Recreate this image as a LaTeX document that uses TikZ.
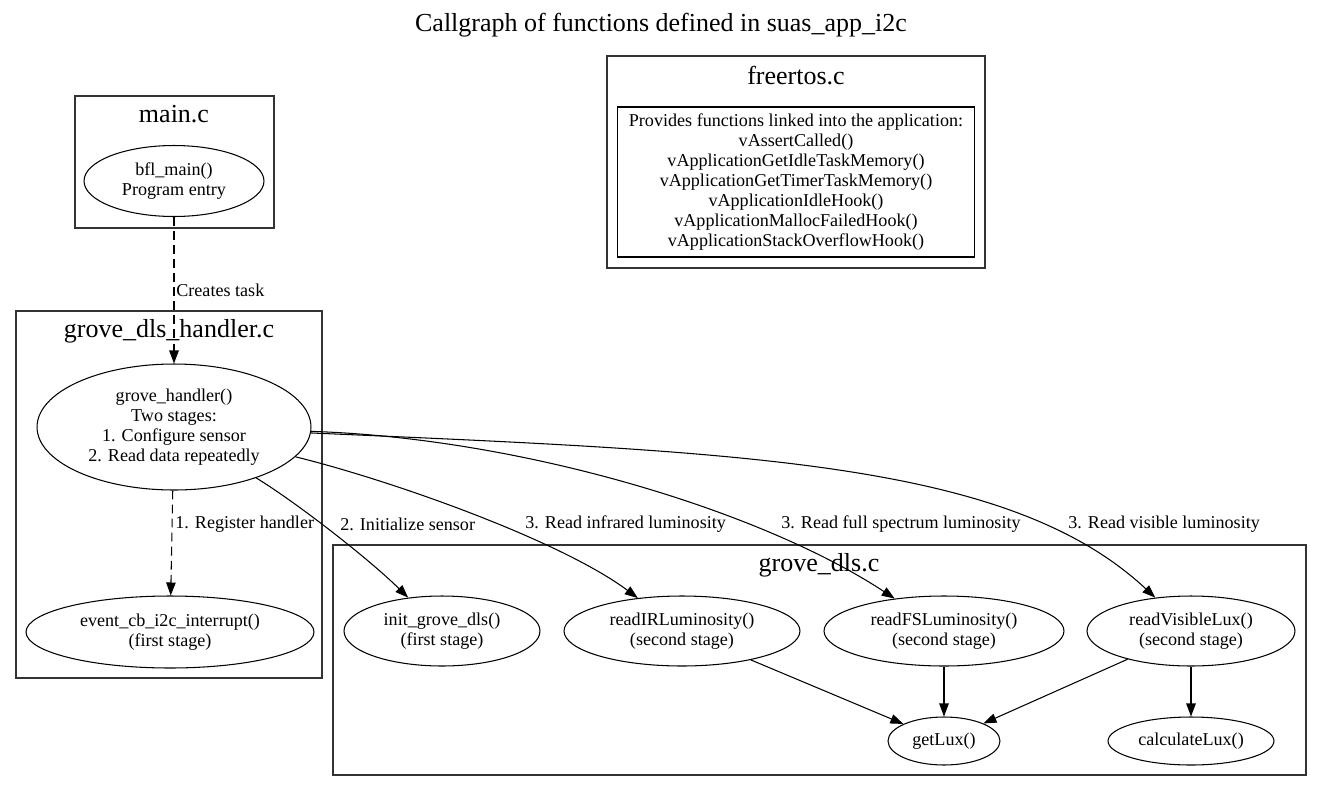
\documentclass[tikz,border=0pt]{standalone}
\usepackage{fontspec}
\setmainfont{Liberation Serif}
\usepackage{tikz}
\usetikzlibrary{arrows.meta,shapes.geometric,positioning}
\tikzset{
  fn/.style={ellipse,draw,line width=0.6pt,inner sep=0pt,align=center,
    font=\fontsize{10.3}{11.4}\selectfont},
  grupo/.style={draw=black!80,line width=0.6pt},
  titulo/.style={inner sep=0pt,font=\fontsize{14.8}{17}\selectfont},
  etq/.style={inner sep=0pt,anchor=west,font=\fontsize{10.3}{11.4}\selectfont},
  llama/.style={-{Triangle[length=7.4pt,width=5.4pt]},line width=0.6pt},
  tarea/.style={llama,dash pattern=on 5pt off 3pt}
}

\begin{document}
\begin{tikzpicture}[x=0.02cm,y=-0.02cm]
\useasboundingbox (0,0) rectangle (1323,792);
\node[titulo] (tit) at (661,25) {Callgraph of functions defined in suas\_app\_i2c};
% main.c
\draw[grupo] (75,96) rectangle (274,228);
\node[titulo] (cMain) at (174,114) {main.c};
\node[fn,minimum width=3.6cm,minimum height=1.42cm] (bflMain) at (174,181) {bfl\_main()\\Program entry};
% freertos.c
\draw[grupo] (607,56) rectangle (985,268);
\node[titulo] (cFree) at (796,76) {freertos.c};
\node[draw,line width=0.6pt,align=center,inner sep=0pt,minimum width=7.16cm,minimum height=3cm,
  font=\fontsize{10.3}{11.4}\selectfont] (provee) at (796,182)
  {Provides functions linked into the application:\\vAssertCalled()\\vApplicationGetIdleTaskMemory()\\
   vApplicationGetTimerTaskMemory()\\vApplicationIdleHook()\\vApplicationMallocFailedHook()\\
   vApplicationStackOverflowHook()};
% grove_dls_handler.c
\draw[grupo] (16,311) rectangle (322,678);
\node[titulo] (cHandler) at (169,331) {grove\_dls\_handler.c};
\node[fn,minimum width=5.48cm,minimum height=2.52cm] (groveHandler) at (174,427)
  {grove\_handler()\\Two stages:\\1. Configure sensor\\2. Read data repeatedly};
\node[fn,minimum width=5.76cm,minimum height=1.44cm] (eventCb) at (170,632) {event\_cb\_i2c\_interrupt()\\(first stage)};
% grove_dls.c
\draw[grupo] (333,545) rectangle (1306,775);
\node[titulo] (cDls) at (819,565) {grove\_dls.c};
\node[fn,minimum width=3.92cm,minimum height=1.4cm] (initGrove) at (442,631) {init\_grove\_dls()\\(first stage)};
\node[fn,minimum width=4.72cm,minimum height=1.4cm] (readIR) at (682,631) {readIRLuminosity()\\(second stage)};
\node[fn,minimum width=4.8cm,minimum height=1.4cm] (readFS) at (944,631) {readFSLuminosity()\\(second stage)};
\node[fn,minimum width=4.16cm,minimum height=1.4cm] (readVis) at (1191,631) {readVisibleLux()\\(second stage)};
\node[fn,minimum width=2.24cm,minimum height=0.96cm] (getLux) at (944,741) {getLux()};
\node[fn,minimum width=3.32cm,minimum height=0.96cm] (calcLux) at (1191,741) {calculateLux()};
% llamadas
\draw[tarea] (bflMain) -- (groveHandler);
\node[etq] (lTask) at (176,290) {Creates task};
\draw[tarea] (groveHandler) -- (eventCb);
\node[etq] (lReg) at (175,524) {1. Register handler};
\draw[llama] (groveHandler) .. controls (300,505) and (370,560) .. (initGrove);
\node[etq] (lInit) at (340,524) {2. Initialize sensor};
\draw[llama] (groveHandler) .. controls (390,480) and (560,540) .. (readIR);
\node[etq] (lIR) at (525,524) {3. Read infrared luminosity};
\draw[llama] (groveHandler) .. controls (520,438) and (760,510) .. (readFS);
\node[etq] (lFS) at (781,524) {3. Read full spectrum luminosity};
\draw[llama] (groveHandler) .. controls (750,452) and (1010,462) .. (readVis);
\node[etq] (lVis) at (1068,524) {3. Read visible luminosity};
\draw[llama] (readIR) -- (getLux);
\draw[llama] (readFS) -- (getLux);
\draw[llama] (readVis) -- (getLux);
\draw[llama] (readVis) -- (calcLux);
\end{tikzpicture}
\end{document}
